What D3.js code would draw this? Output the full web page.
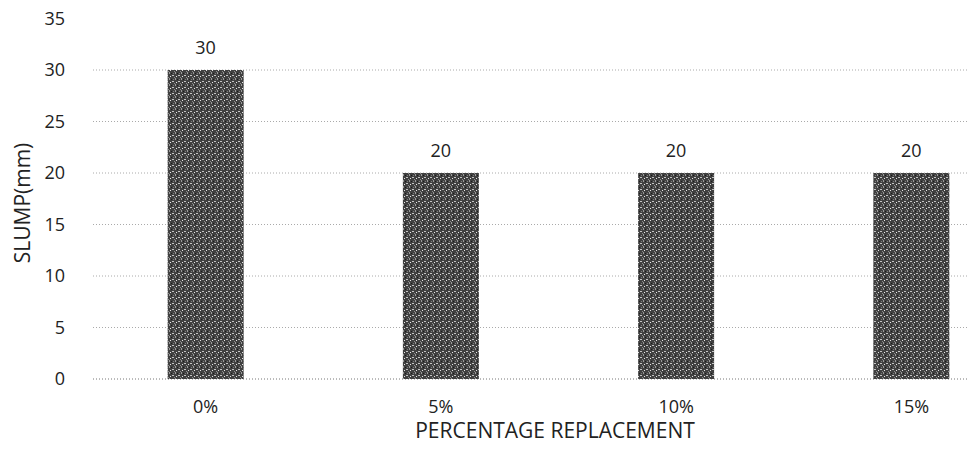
<!DOCTYPE html>
<html><head><meta charset="utf-8">
<script src="https://cdn.jsdelivr.net/npm/d3@7"></script>
<style>body{margin:0;background:#fff}svg{display:block}text{font-family:"Open Sans",sans-serif;fill:#222}</style>
</head><body><svg id="c" width="968" height="457"></svg>
<script>
const categories = ["0%", "5%", "10%", "15%"];
const slump = [30, 20, 20, 20];
const yTicks = [0, 5, 10, 15, 20, 25, 30, 35];
const xTitle = "PERCENTAGE REPLACEMENT";
const yTitle = "SLUMP(mm)";

const FONT = "'Open Sans',sans-serif";
const svg = d3.select("#c");
const x = d3.scaleBand().domain(categories).range([88, 1029]).paddingInner(0.677).paddingOuter(0.3385);
const y = d3.scaleLinear().domain([0, 35]).range([379, 18.5]);

// pattern for textured bars
const defs = svg.append("defs");
const pat = defs.append("pattern").attr("id","tex").attr("patternUnits","userSpaceOnUse").attr("width",6).attr("height",6);
pat.append("rect").attr("width",6).attr("height",6).attr("fill","#404040");
pat.append("rect").attr("x",1).attr("y",0).attr("width",1).attr("height",2).attr("fill","#9a9a9a");
pat.append("rect").attr("x",4).attr("y",3).attr("width",2).attr("height",1).attr("fill","#c4c4c4");
pat.append("rect").attr("x",2).attr("y",4).attr("width",1).attr("height",1).attr("fill","#e6e6e6");
pat.append("rect").attr("x",5).attr("y",1).attr("width",1).attr("height",1).attr("fill","#7a7a7a");
pat.append("rect").attr("x",0).attr("y",5).attr("width",1).attr("height",1).attr("fill","#8c8c8c");
pat.append("rect").attr("x",3).attr("y",1).attr("width",1).attr("height",1).attr("fill","#1a1a1a");

// gridlines
svg.append("g").selectAll("line").data(yTicks.filter(d => d !== 35)).join("line")
  .attr("x1", 93).attr("x2", 968)
  .attr("y1", d => y(d)).attr("y2", d => y(d))
  .attr("stroke", d => d === 0 ? "#777" : "#aaa")
  .attr("stroke-width", 1)
  .attr("stroke-dasharray", "1,2");

// y axis labels
const yAxis = d3.axisLeft(y).tickValues(yTicks).tickSize(0).tickPadding(0);
const ga = svg.append("g").attr("transform", "translate(65,0)").call(yAxis);
ga.select(".domain").remove();
ga.selectAll("text").attr("font-size", 18).attr("fill","#222").style("font-family",FONT);

// bars
svg.append("g").selectAll("rect").data(slump).join("rect")
  .attr("x", (d, i) => x(categories[i]))
  .attr("width", x.bandwidth())
  .attr("y", d => y(d))
  .attr("height", d => y(0) - y(d))
  .attr("fill", "url(#tex)");

// value labels
svg.append("g").selectAll("text").data(slump).join("text")
  .attr("x", (d, i) => x(categories[i]) + x.bandwidth() / 2)
  .attr("y", d => y(d) - 16)
  .attr("text-anchor", "middle").attr("font-size", 18)
  .text(d => d);

// x axis
const xAxis = d3.axisBottom(x).tickSize(0).tickPadding(0);
const gx = svg.append("g").attr("transform", "translate(0,400)").call(xAxis);
gx.select(".domain").remove();
gx.selectAll("text").attr("font-size", 18).attr("fill","#222").style("font-family",FONT);

svg.append("text").attr("x", 555).attr("y", 438).attr("text-anchor", "middle")
  .attr("font-size", 21).text(xTitle);
svg.append("text").attr("transform", "translate(30,203) rotate(-90)").attr("text-anchor", "middle")
  .attr("font-size", 21).text(yTitle);
</script></body></html>
